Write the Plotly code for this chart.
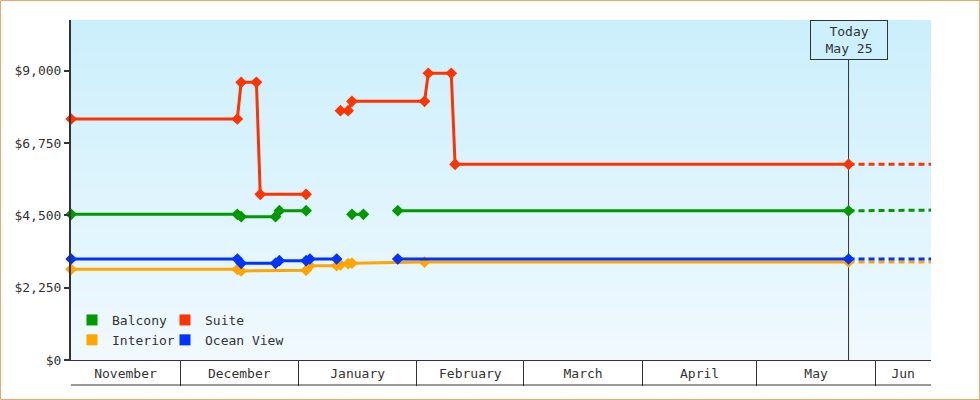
import plotly.graph_objects as go
from datetime import datetime

# ---------------- data ----------------
suite_dates = ["2024-11-02 12:00", "2024-12-16", "2024-12-17", "2024-12-21", "2024-12-22", "2025-01-03",
               None, "2025-01-12", "2025-01-14", "2025-01-15", "2025-02-03", "2025-02-04",
               "2025-02-10", "2025-02-11", "2025-05-25"]
suite_prices = [7496, 7496, 8638, 8638, 5154, 5154,
                None, 7754, 7754, 8047, 8047, 8918,
                8918, 6087, 6087]

balcony_dates = ["2024-11-02 12:00", "2024-12-16", "2024-12-17", "2024-12-26", "2024-12-27", "2025-01-03",
                 None, "2025-01-15", "2025-01-18", None, "2025-01-27", "2025-05-25"]
balcony_prices = [4531, 4531, 4457, 4457, 4644, 4644,
                  None, 4531, 4531, None, 4644, 4640]

oceanview_dates = ["2024-11-02 12:00", "2024-12-16", "2024-12-17", "2024-12-26", "2024-12-27", "2025-01-03",
                   "2025-01-04", "2025-01-11", None, "2025-01-27", "2025-05-25"]
oceanview_prices = [3141, 3141, 3007, 3007, 3089, 3089,
                    3141, 3141, None, 3141, 3141]

interior_dates = ["2024-11-02 12:00", "2024-12-16", "2024-12-17", "2025-01-03", "2025-01-04", "2025-01-11",
                  "2025-01-12", "2025-01-14", "2025-01-15", "2025-02-03", "2025-05-25"]
interior_prices = [2820, 2820, 2768, 2790, 2934, 2934,
                   2960, 2995, 3010, 3045, 3050]

# forecast (dashed) after today
forecast_dates = {
    "Suite": ["2025-05-25", "2025-06-15 14:00"],
    "Balcony": ["2025-05-25", "2025-06-03", "2025-06-04", "2025-06-15 14:00"],
    "Ocean View": ["2025-05-25", "2025-06-15 14:00"],
    "Interior": ["2025-05-25", "2025-06-15 14:00"],
}
forecast_prices = {
    "Suite": [6087, 6087],
    "Balcony": [4640, 4640, 4662, 4662],
    "Ocean View": [3141, 3141],
    "Interior": [3050, 3050],
}

today = "2025-05-25"
today_label = "Today<br>May 25"
month_names = ["November", "December", "January", "February", "March", "April", "May", "Jun"]
month_starts = ["2024-11-01", "2024-12-01", "2025-01-01", "2025-02-01", "2025-03-01",
                "2025-04-01", "2025-05-01", "2025-06-01", "2025-07-01"]
x_range = ["2024-11-02 11:00", "2025-06-15 14:00"]
y_ticks = [0, 2250, 4500, 6750, 9000]
y_ticktext = ["$0", "$2,250", "$4,500", "$6,750", "$9,000"]
y_max = 10575

colors = {"Balcony": "#009900", "Suite": "#ff3300", "Interior": "#ffa500", "Ocean View": "#0033ff"}

# ---------------- figure ----------------
FONT = "DejaVu Sans Mono"
fig = go.Figure()

series = [
    ("Interior", interior_dates, interior_prices),
    ("Ocean View", oceanview_dates, oceanview_prices),
    ("Balcony", balcony_dates, balcony_prices),
    ("Suite", suite_dates, suite_prices),
]
for name, d, p in series:
    fig.add_trace(go.Scatter(
        x=forecast_dates[name], y=forecast_prices[name], mode="lines",
        line=dict(color=colors[name], width=3, dash="6px,4px"),
        showlegend=False, hoverinfo="skip"))
for name, d, p in series:
    fig.add_trace(go.Scatter(
        x=d, y=p, mode="lines+markers", connectgaps=False,
        line=dict(color=colors[name], width=3),
        marker=dict(symbol="diamond", size=9, color=colors[name]),
        cliponaxis=False, showlegend=False, name=name))

# legend entries (square swatches)
for name, lg in [("Balcony", "legend"), ("Interior", "legend"),
                 ("Suite", "legend2"), ("Ocean View", "legend2")]:
    fig.add_trace(go.Scatter(
        x=[None], y=[None], mode="markers", name=name, legend=lg,
        marker=dict(symbol="square", size=11, color=colors[name])))

# gradient background bands
top_c = (0xcc, 0xef, 0xfc)
bot_c = (0xf0, 0xf9, 0xfe)
n = 34
shapes = []
for i in range(n):
    t = i / (n - 1)
    c = tuple(round(bot_c[k] + (top_c[k] - bot_c[k]) * t) for k in range(3))
    shapes.append(dict(type="rect", xref="x domain", yref="y domain",
                       x0=0, x1=1, y0=i / n, y1=min(1, (i + 1) / n + 0.002),
                       fillcolor="rgb(%d,%d,%d)" % c, line=dict(width=0), layer="below"))

L, R, T, B = 71, 49, 20, 40
W, H = 980 - L - R, 400 - T - B
# today line
shapes.append(dict(type="line", xref="x", yref="paper", x0=today, x1=today,
                   y0=0, y1=(360 - 60) / H, line=dict(color="#333333", width=1), layer="below"))
# bottom line of month cells
shapes.append(dict(type="line", xref="paper", yref="paper", x0=0, x1=1,
                   y0=(360 - 385) / H, y1=(360 - 385) / H, line=dict(color="#333333", width=1)))
# outer border
shapes.append(dict(type="rect", xref="paper", yref="paper",
                   x0=(0.5 - L) / W, x1=(979.5 - L) / W, y0=(360 - 399.5) / H, y1=(360 - 0.5) / H,
                   line=dict(color="#e9a96a", width=1), fillcolor="rgba(0,0,0,0)"))

# month label positions: center of the visible part of each month
def p(s):
    return datetime.fromisoformat(s)
r0, r1 = p(x_range[0]), p(x_range[1])
label_pos = []
for i in range(len(month_names)):
    a = max(p(month_starts[i]), r0)
    b = min(p(month_starts[i + 1]), r1)
    label_pos.append((a + (b - a) / 2).isoformat())

fig.update_layout(
    width=980, height=400,
    margin=dict(l=L, r=R, t=T, b=B),
    paper_bgcolor="white", plot_bgcolor="#eef8fd",
    font=dict(family=FONT, size=13, color="#333333"),
    shapes=shapes,
    xaxis=dict(range=x_range, type="date", tickmode="array", tickvals=label_pos, ticktext=month_names,
               ticks="", showgrid=False, zeroline=False, showline=True, linecolor="#333333", linewidth=1,
               ticklabelstandoff=1,
               minor=dict(tickmode="array", tickvals=month_starts[1:-1], ticks="outside", ticklen=25,
                          tickcolor="#333333", tickwidth=1, showgrid=False)),
    yaxis=dict(range=[0, y_max], tickmode="array", tickvals=y_ticks, ticktext=y_ticktext,
               ticks="outside", ticklen=5, tickwidth=2, tickcolor="#333333",
               showline=True, linecolor="#333333", linewidth=2, showgrid=False, zeroline=False),
    legend=dict(x=(72 - L) / W, y=(360 - 305) / H, xanchor="left", yanchor="top",
                bgcolor="rgba(0,0,0,0)", tracegroupgap=0, font=dict(size=13)),
    legend2=dict(x=(165 - L) / W, y=(360 - 305) / H, xanchor="left", yanchor="top",
                 bgcolor="rgba(0,0,0,0)", tracegroupgap=0, font=dict(size=13)),
    annotations=[dict(x=today, y=1, xref="x", yref="paper", yanchor="top", xanchor="center",
                      text=today_label, showarrow=False, bordercolor="#333333", borderwidth=1,
                      bgcolor="#ccf0fd", width=70, height=32, borderpad=3,
                      font=dict(size=13, color="#333333"))],
    showlegend=True,
)

fig.write_html("out.html", config={"displayModeBar": False},
               post_script="document.body.style.margin='0';")
